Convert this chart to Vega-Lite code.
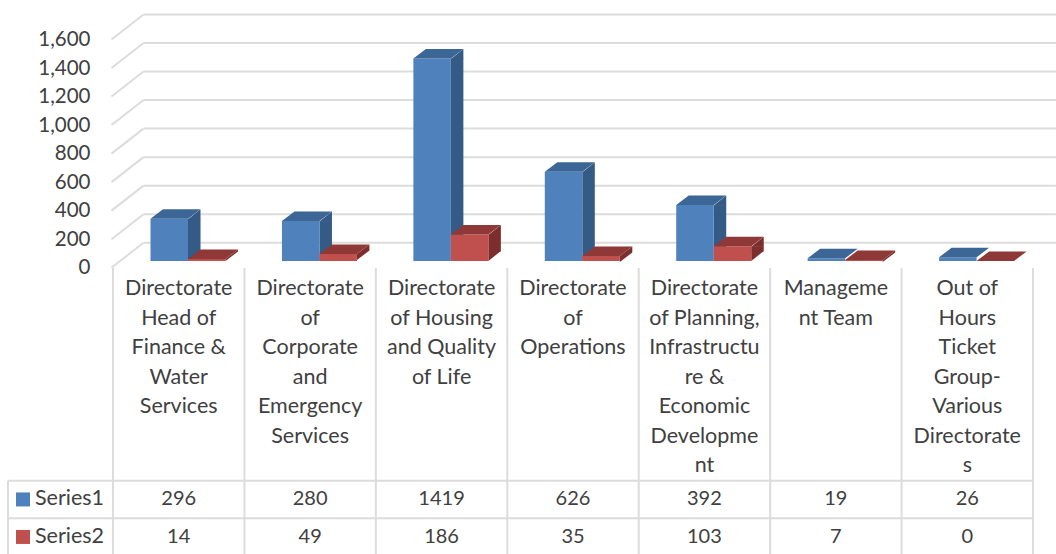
{
"$schema":"https://vega.github.io/schema/vega-lite/v6.json",
"width":1056,"height":554,"padding":0,
"autosize":{"type":"fit","contains":"padding"},
"background":"white",
"config":{"view":{"stroke":null},"font":"Lato","axisY":{"grid":false,"domain":false,"ticks":false,"offset":-90,"labelPadding":0,"labelFontSize":20.5,"labelColor":"#404040","labelFont":"Lato","labelOverlap":false,"tickCount":9}},
"data":{"values":[
{"cat":"Directorate Head of Finance & Water Services","label":"Directorate\nHead of\nFinance &\nWater\nServices","series":"Series1","value":296},
{"cat":"Directorate of Corporate and Emergency Services","label":"Directorate\nof\nCorporate\nand\nEmergency\nServices","series":"Series1","value":280},
{"cat":"Directorate of Housing and Quality of Life","label":"Directorate\nof Housing\nand Quality\nof Life","series":"Series1","value":1419},
{"cat":"Directorate of Operations","label":"Directorate\nof\nOperations","series":"Series1","value":626},
{"cat":"Directorate of Planning, Infrastructure & Economic Development","label":"Directorate\nof Planning,\nInfrastructu\nre &\nEconomic\nDevelopme\nnt","series":"Series1","value":392},
{"cat":"Management Team","label":"Manageme\nnt Team","series":"Series1","value":19},
{"cat":"Out of Hours Ticket Group-Various Directorates","label":"Out of\nHours\nTicket\nGroup-\nVarious\nDirectorate\ns","series":"Series1","value":26},
{"cat":"Directorate Head of Finance & Water Services","label":"Directorate\nHead of\nFinance &\nWater\nServices","series":"Series2","value":14},
{"cat":"Directorate of Corporate and Emergency Services","label":"Directorate\nof\nCorporate\nand\nEmergency\nServices","series":"Series2","value":49},
{"cat":"Directorate of Housing and Quality of Life","label":"Directorate\nof Housing\nand Quality\nof Life","series":"Series2","value":186},
{"cat":"Directorate of Operations","label":"Directorate\nof\nOperations","series":"Series2","value":35},
{"cat":"Directorate of Planning, Infrastructure & Economic Development","label":"Directorate\nof Planning,\nInfrastructu\nre &\nEconomic\nDevelopme\nnt","series":"Series2","value":103},
{"cat":"Management Team","label":"Manageme\nnt Team","series":"Series2","value":7},
{"cat":"Out of Hours Ticket Group-Various Directorates","label":"Out of\nHours\nTicket\nGroup-\nVarious\nDirectorate\ns","series":"Series2","value":0}
]},
"resolve":{"scale":{"y":"independent"},"axis":{"y":"independent"}},
"layer":[
{"layer":[
 {"data":{"values":[{"tick":0},{"tick":200},{"tick":400},{"tick":600},{"tick":800},{"tick":1000},{"tick":1200},{"tick":1400},{"tick":1600}]},
  "mark":{"type":"rule","stroke":"#DCDCDC","strokeWidth":2,"xOffset":-35.2,"yOffset":-25,"x2Offset":88.7,"y2Offset":-25},
  "encoding":{
   "x":{"datum":"Directorate Head of Finance & Water Services","type":"nominal","axis":null,"scale":{"type":"band","domain":["Directorate Head of Finance & Water Services","Directorate of Corporate and Emergency Services","Directorate of Housing and Quality of Life","Directorate of Operations","Directorate of Planning, Infrastructure & Economic Development","Management Team","Out of Hours Ticket Group-Various Directorates"],"range":[113,1033],"paddingInner":0,"paddingOuter":0}},
   "x2":{"datum":"Out of Hours Ticket Group-Various Directorates"},
   "y":{"field":"tick","type":"quantitative","title":null,"scale":{"domain":[0,1600],"range":[267.7,39.5],"nice":false,"zero":false}}}},
 {"data":{"values":[{"tick":0},{"tick":200},{"tick":400},{"tick":600},{"tick":800},{"tick":1000},{"tick":1200},{"tick":1400},{"tick":1600}]},
  "mark":{"type":"point","shape":"M0 0L32 -25","filled":false,"size":4,"stroke":"#DCDCDC","strokeWidth":2,"opacity":1,"xOffset":-67.2},
  "encoding":{"x":{"datum":"Directorate Head of Finance & Water Services","type":"nominal","axis":null},
   "y":{"field":"tick","type":"quantitative","title":null}}},
 {"transform":[{"filter":"datum.series==='Series1'"}],
  "layer":[
   {"transform":[{"filter":"datum.value>=66"}],"mark":{"type":"bar","width":12.5,"color":"#345A86","xOffset":15.55,"yOffset":-6.7,"y2Offset":-16.2},
    "encoding":{"x":{"field":"cat","type":"nominal","axis":null},"y":{"field":"value","type":"quantitative","title":null},"y2":{"datum":0}}},
   {"transform":[{"filter":"datum.value>=66"}],"mark":{"type":"point","shape":"M0 0.5L12.5 -9.5L12.5 0.5Z","filled":true,"size":4,"color":"#345A86","opacity":1,"xOffset":9.3,"yOffset":-6.7},
    "encoding":{"x":{"field":"cat","type":"nominal","axis":null},"y":{"field":"value","type":"quantitative","title":null}}},
   {"transform":[{"filter":"datum.value>=66"}],"mark":{"type":"point","shape":"M0 0L12.5 -10L0 -10Z","filled":true,"size":4,"color":"#345A86","opacity":1,"xOffset":9.3,"yOffset":-6.7},
    "encoding":{"x":{"field":"cat","type":"nominal","axis":null},"y":{"datum":0,"type":"quantitative","title":null}}},
   {"mark":{"type":"bar","width":37.5,"color":"#4F81BD","xOffset":-9.45,"yOffset":-6.7,"y2Offset":-6.7},
    "encoding":{"x":{"field":"cat","type":"nominal","axis":null},"y":{"field":"value","type":"quantitative","title":null},"y2":{"datum":0}}},
   {"mark":{"type":"point","shape":"M0 0L12.5 -9.5L50 -9.5L37.5 0Z","filled":true,"size":4,"color":"#3C6696","opacity":1,"xOffset":-28.2,"yOffset":-6.7},
    "encoding":{"x":{"field":"cat","type":"nominal","axis":null},"y":{"field":"value","type":"quantitative","title":null}}}
  ]},
 {"transform":[{"filter":"datum.series==='Series2'"}],
  "layer":[
   {"transform":[{"filter":"datum.value>=66"}],"mark":{"type":"bar","width":12.5,"color":"#7B2E2C","xOffset":53.05,"yOffset":-6.7,"y2Offset":-16.2},
    "encoding":{"x":{"field":"cat","type":"nominal","axis":null},"y":{"field":"value","type":"quantitative","title":null},"y2":{"datum":0}}},
   {"transform":[{"filter":"datum.value>=66"}],"mark":{"type":"point","shape":"M0 0.5L12.5 -9.5L12.5 0.5Z","filled":true,"size":4,"color":"#7B2E2C","opacity":1,"xOffset":46.8,"yOffset":-6.7},
    "encoding":{"x":{"field":"cat","type":"nominal","axis":null},"y":{"field":"value","type":"quantitative","title":null}}},
   {"transform":[{"filter":"datum.value>=66"}],"mark":{"type":"point","shape":"M0 0L12.5 -10L0 -10Z","filled":true,"size":4,"color":"#7B2E2C","opacity":1,"xOffset":46.8,"yOffset":-6.7},
    "encoding":{"x":{"field":"cat","type":"nominal","axis":null},"y":{"datum":0,"type":"quantitative","title":null}}},
   {"transform":[{"filter":"datum.value>=30 && datum.value<66"}],"mark":{"type":"point","shape":"M0 0L12.5 -9.5L12.5 -3.5L0 6Z","filled":true,"size":4,"color":"#7B2E2C","opacity":1,"xOffset":46.8,"yOffset":-6.7},
    "encoding":{"x":{"field":"cat","type":"nominal","axis":null},"y":{"field":"value","type":"quantitative","title":null}}},
   {"transform":[{"filter":"datum.value>0 && datum.value<30"}],"mark":{"type":"point","shape":"M0 0L12.5 -9.5L12.5 -7.5L0 2Z","filled":true,"size":4,"color":"#7B2E2C","opacity":1,"xOffset":46.8,"yOffset":-6.7},
    "encoding":{"x":{"field":"cat","type":"nominal","axis":null},"y":{"field":"value","type":"quantitative","title":null}}},
   {"mark":{"type":"bar","width":37.5,"color":"#C0504D","xOffset":28.05,"yOffset":-6.7,"y2Offset":-6.7},
    "encoding":{"x":{"field":"cat","type":"nominal","axis":null},"y":{"field":"value","type":"quantitative","title":null},"y2":{"datum":0}}},
   {"mark":{"type":"point","shape":"M0 0L12.5 -9.5L50 -9.5L37.5 0Z","filled":true,"size":4,"color":"#8E3937","opacity":1,"xOffset":9.3,"yOffset":-6.7},
    "encoding":{"x":{"field":"cat","type":"nominal","axis":null},"y":{"field":"value","type":"quantitative","title":null}}}
  ]}
]},
{"layer":[
 {"data":{"values":[{"row":"Series1"},{"row":"Series2"}]},
  "mark":{"type":"rule","stroke":"#DCDCDC","strokeWidth":2,"xOffset":-170.7,"x2Offset":65.7},
  "encoding":{"x":{"datum":"Directorate Head of Finance & Water Services","type":"nominal","axis":null},
   "x2":{"datum":"Out of Hours Ticket Group-Various Directorates"},
   "y":{"field":"row","type":"nominal","bandPosition":0,"title":null,"axis":null,"scale":{"type":"band","domain":["Category","Series1","Series2"],"range":[443.2,555.7],"paddingInner":0,"paddingOuter":0}}}},
 {"transform":[{"filter":"datum.series==='Series1'"}],
  "mark":{"type":"rule","stroke":"#DCDCDC","strokeWidth":2,"yOffset":-175.2,"y2Offset":20},
  "encoding":{"x":{"field":"cat","type":"nominal","bandPosition":0,"axis":null},
   "y":{"datum":"Category","type":"nominal","bandPosition":0,"axis":null},"y2":{"datum":"Series2"}}},
 {"transform":[{"filter":"datum.series==='Series1' && datum.value===26"}],
  "mark":{"type":"rule","stroke":"#DCDCDC","strokeWidth":2,"yOffset":-175.2,"y2Offset":20},
  "encoding":{"x":{"field":"cat","type":"nominal","bandPosition":1,"axis":null},
   "y":{"datum":"Category","type":"nominal","bandPosition":0,"axis":null},"y2":{"datum":"Series2"}}},
 {"transform":[{"filter":"datum.series==='Series1' && datum.value===296"}],
  "mark":{"type":"rule","stroke":"#DCDCDC","strokeWidth":2,"xOffset":-170.7,"y2Offset":20},
  "encoding":{"x":{"field":"cat","type":"nominal","axis":null},
   "y":{"datum":"Series1","type":"nominal","bandPosition":0,"axis":null},"y2":{"datum":"Series2"}}},
 {"transform":[{"filter":"datum.series==='Series1'"}],
  "mark":{"type":"text","fontSize":21.5,"color":"#404040","baseline":"top","align":"center","lineBreak":"\n","lineHeight":29.5,"yOffset":-165},
  "encoding":{"x":{"field":"cat","type":"nominal","axis":null},"y":{"datum":"Category","type":"nominal","bandPosition":0,"axis":null},"text":{"field":"label"}}},
 {"mark":{"type":"text","fontSize":20,"color":"#404040","baseline":"middle","align":"center"},
  "encoding":{"x":{"field":"cat","type":"nominal","axis":null},"y":{"field":"series","type":"nominal","axis":null},"text":{"field":"value","type":"quantitative"}}},
 {"transform":[{"filter":"datum.cat==='Directorate Head of Finance & Water Services'"}],
  "mark":{"type":"text","fontSize":21.5,"color":"#404040","baseline":"middle","align":"left","xOffset":-143.7},
  "encoding":{"x":{"field":"cat","type":"nominal","axis":null},"y":{"field":"series","type":"nominal","axis":null},"text":{"field":"series"}}},
 {"transform":[{"filter":"datum.cat==='Directorate Head of Finance & Water Services'"}],
  "mark":{"type":"point","shape":"square","filled":true,"size":196,"opacity":1,"xOffset":-155.7},
  "encoding":{"x":{"field":"cat","type":"nominal","axis":null},"y":{"field":"series","type":"nominal","axis":null},
   "color":{"field":"series","type":"nominal","legend":null,"scale":{"domain":["Series1","Series2"],"range":["#4F81BD","#C0504D"]}}}}
]}
]
}
